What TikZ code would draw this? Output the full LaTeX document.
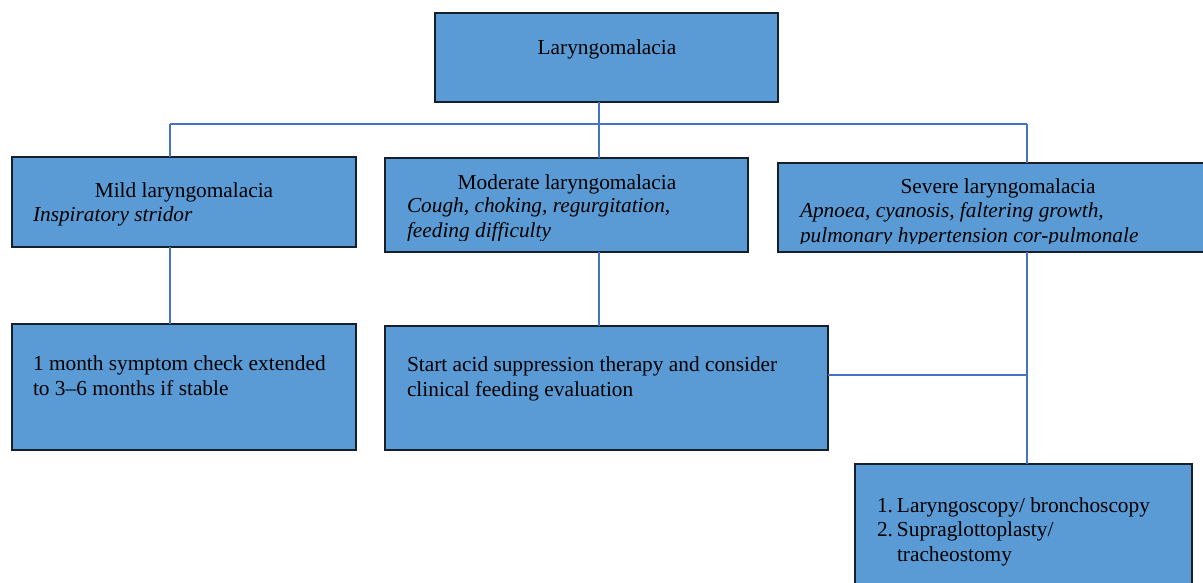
\documentclass[tikz,border=0pt]{standalone}
\usepackage{fontspec}
\setmainfont{Liberation Serif}
\definecolor{boxfill}{HTML}{5B9BD5}
\definecolor{boxline}{HTML}{16202B}
\definecolor{conn}{HTML}{4472C4}
\begin{document}
\begin{tikzpicture}[x=0.75pt,y=-0.75pt,
  box/.style={draw=boxline,fill=boxfill,line width=2pt,inner sep=0pt,outer sep=0pt,rectangle},
  bar/.style={draw=conn,line width=0.8pt},
  txt/.style={inner sep=0pt,outer sep=0pt,font=\fontsize{16}{18.2}\selectfont,align=left,text=black},
  ttl/.style={txt,anchor=base},
  lft/.style={txt,anchor=base west}]
\useasboundingbox (0,0) rectangle (1203,582);
\clip (0,0) rectangle (1203,582);
\fill[white] (0,0) rectangle (1203,582);
% connector coordinates
\coordinate (bus) at (599,124);
\coordinate (busL) at (170,124);
\coordinate (busR) at (1027,124);
\coordinate (join) at (1027,375);
% boxes
\node[box,minimum width=257.25pt,minimum height=66.75pt] (top) at (606.5,57.5) {};
\node[box,minimum width=258pt,minimum height=67.5pt] (mild) at (184,202) {};
\node[box,minimum width=272.25pt,minimum height=70.5pt] (mod) at (566.5,205) {};
\node[box,minimum width=327.75pt,minimum height=66.75pt] (sev) at (996.5,207.5) {};
\node[box,minimum width=258pt,minimum height=94.5pt] (mildc) at (184,387) {};
\node[box,minimum width=332.25pt,minimum height=93pt] (modc) at (606.5,388) {};
\node[box,minimum width=252.75pt,minimum height=102pt] (sevc) at (1023.5,532) {};
% connectors
\draw[bar] (top.south -| bus) -- (bus);
\draw[bar] (busL) -- (busR);
\draw[bar] (busL) -- (busL |- mild.north);
\draw[bar] (bus) -- (bus |- mod.north);
\draw[bar] (busR) -- (busR |- sev.north);
\draw[bar] (mild.south -| busL) -- (mildc.north -| busL);
\draw[bar] (mod.south -| bus) -- (modc.north -| bus);
\draw[bar] (sev.south -| busR) -- (sevc.north -| busR);
\draw[bar] (modc.east |- join) -- (join);
% texts (anchor base = baseline of the last line)
\node[ttl] (ttop) at (607,54) {Laryngomalacia};
\node[ttl] (tmild) at (184,197) {Mild laryngomalacia};
\node[lft] (smild) at (33,221) {\itshape Inspiratory stridor};
\node[ttl] (tmod) at (567,189) {Moderate laryngomalacia};
\begin{scope}
\clip (388,160) rectangle (745,240);
\node[lft] (smod) at (407,237) {\itshape Cough, choking, regurgitation,\\\itshape feeding difficulty};
\end{scope}
\node[ttl] (tsev) at (998,193) {Severe laryngomalacia};
\begin{scope}
\clip (781,166) rectangle (1203,243.5);
\node[lft] (ssev) at (800,242) {\itshape Apnoea, cyanosis, faltering growth,\\\itshape pulmonary hypertension cor-pulmonale};
\end{scope}
\node[lft] (tmildc) at (33,395) {1 month symptom check extended\\to 3--6 months if stable};
\node[lft] (tmodc) at (407,396) {Start acid suppression therapy and consider\\clinical feeding evaluation};
\node[lft] (tsevc) at (877,561) {\makebox[15pt][l]{1.}Laryngoscopy/ bronchoscopy\\\makebox[15pt][l]{2.}Supraglottoplasty/\\\hspace*{15pt}tracheostomy};
\end{tikzpicture}
\end{document}
